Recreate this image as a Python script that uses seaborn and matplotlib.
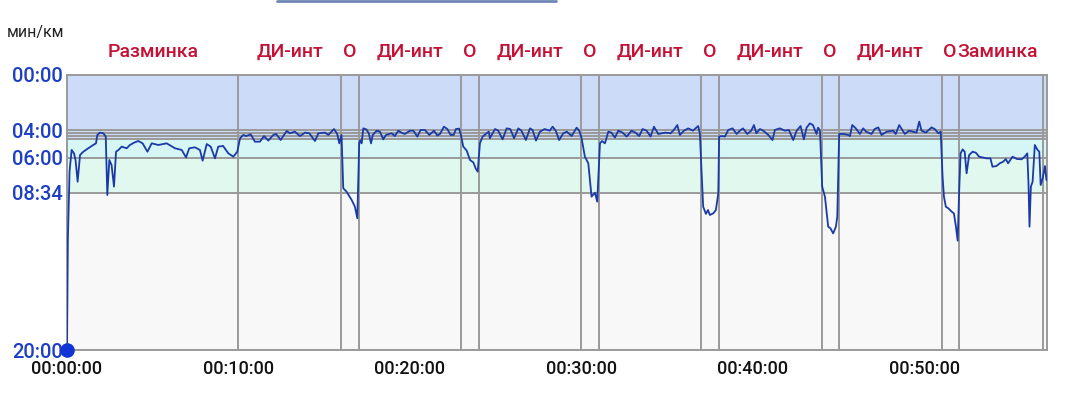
import matplotlib
matplotlib.use("Agg")
import matplotlib.pyplot as plt
from matplotlib.lines import Line2D
from matplotlib.transforms import blended_transform_factory
import seaborn as sns

# elapsed time (minutes) and pace (min/km)
elapsed_min = [
    0.0, 0.05, 0.15, 0.27, 0.41, 0.5, 0.62, 0.76, 0.95, 1.24, 1.53, 1.69, 1.77, 1.92, 2.12, 2.26,
    2.35, 2.47, 2.6, 2.74, 2.86, 3.0, 3.19, 3.48, 3.67, 3.91, 4.16, 4.41, 4.69, 4.94, 5.33, 5.81,
    6.3, 6.69, 6.94, 7.13, 7.46, 7.75, 7.91, 8.15, 8.38, 8.63, 8.82, 9.1, 9.41, 9.7, 9.93,
    10.09, 10.28, 10.45, 10.71, 10.96, 11.25, 11.49, 11.74, 12.03, 12.2, 12.46, 12.81, 13.0,
    13.29, 13.58, 13.88, 14.13, 14.46, 14.66, 15.04, 15.24, 15.57, 15.76, 15.88, 16.01,
    16.11, 16.3, 16.6, 16.79, 16.93,
    17.04, 17.1, 17.18, 17.28, 17.45, 17.6, 17.73, 17.83, 18.06, 18.25, 18.44, 18.6, 18.93,
    19.12, 19.32, 19.5, 19.7, 20.0, 20.2, 20.43, 20.62, 20.87, 21.13, 21.4, 21.6, 21.75,
    21.98, 22.18, 22.37, 22.55, 22.68, 22.87, 22.97,
    23.11, 23.31, 23.5, 23.7, 23.83, 23.95,
    24.08, 24.24, 24.47, 24.6, 24.66, 24.96, 25.15, 25.4, 25.64, 25.85, 26.07, 26.32, 26.5,
    26.76, 27.0, 27.15, 27.35, 27.58, 27.85, 28.15, 28.32, 28.5, 28.7, 28.94, 29.15, 29.43,
    29.72, 29.87, 30.01,
    30.2, 30.4, 30.59, 30.79, 30.92,
    31.08, 31.2, 31.37, 31.57, 31.75, 31.95, 32.15, 32.4, 32.64, 32.92, 33.15, 33.37, 33.57,
    33.8, 34.03, 34.23, 34.48, 34.9, 35.2, 35.39, 35.59, 35.74, 35.98, 36.23, 36.5, 36.81, 36.91,
    37.0, 37.1, 37.26, 37.38, 37.49, 37.69, 37.84, 37.98,
    38.03, 38.2, 38.37, 38.56, 38.81, 39.05, 39.24, 39.42, 39.67, 39.9, 40.06, 40.2, 40.41,
    40.6, 40.9, 41.14, 41.28, 41.57, 41.87, 42.1, 42.35, 42.55, 42.78, 42.97, 43.13, 43.32,
    43.5, 43.71, 43.8, 43.91,
    44.04, 44.2, 44.39, 44.52, 44.68, 44.84, 44.92,
    45.03, 45.3, 45.55, 45.66, 45.79, 46.0, 46.24, 46.43, 46.6, 46.92, 47.1, 47.31, 47.5,
    47.8, 48.18, 48.33, 48.53, 48.65, 48.86, 49.1, 49.54, 49.7, 49.83, 50.09, 50.42, 50.6,
    50.81, 50.95,
    51.06, 51.14, 51.25, 51.4, 51.59, 51.72, 51.84, 51.94,
    52.03, 52.11, 52.23, 52.35, 52.46, 52.61, 52.81, 53.0, 53.19, 53.4, 53.62, 53.85, 53.97,
    54.2, 54.4, 54.6, 54.75, 54.88, 55.14, 55.4, 55.67, 55.85, 56.0, 56.07, 56.13, 56.21,
    56.31, 56.44, 56.58, 56.7, 56.78, 56.9, 57.03, 57.12,
]
pace_min = [
    20.0, 12.0, 7.0, 5.45, 5.7, 6.2, 7.76, 5.82, 5.58, 5.33, 5.09, 4.97, 4.36, 4.19, 4.24, 4.48,
    8.73, 6.18, 6.55, 8.12, 5.58, 5.45, 5.21, 5.33, 5.09, 4.92, 4.8, 4.97, 5.58, 4.97, 5.09, 4.97,
    5.33, 5.45, 5.99, 5.33, 5.26, 5.45, 6.23, 5.02, 5.21, 6.06, 5.21, 5.16, 5.7, 5.94, 5.58,
    4.61, 4.36, 4.44, 4.31, 4.85, 4.85, 4.44, 4.77, 4.36, 4.29, 4.73, 4.07, 4.24,
    4.12, 4.44, 4.19, 4.24, 4.8, 4.24, 4.19, 4.36, 3.93, 4.29, 4.97, 4.36,
    8.24, 8.48, 9.09, 9.58, 10.42,
    4.97, 4.75, 4.97, 3.88, 3.95, 4.24, 4.97, 4.36, 4.05, 4.12, 4.68, 4.36, 4.24,
    4.44, 4.05, 4.19, 4.29, 4.05, 4.05, 4.48, 4.0, 4.0, 4.36, 4.05, 4.4, 4.29,
    3.76, 3.93, 4.36, 4.36, 3.93, 3.9, 4.36,
    5.21, 5.5, 6.18, 6.36, 6.79, 7.03,
    4.97, 4.48, 4.24, 4.12, 4.6, 3.93, 4.05, 4.68, 3.88, 3.93, 4.6, 3.88, 4.05,
    4.73, 3.88, 4.0, 4.77, 4.12, 3.93, 4.05, 3.76, 4.05, 4.73, 4.24, 4.12, 4.44,
    3.83, 4.05, 4.6,
    5.94, 6.42, 8.85, 8.56, 9.21,
    4.97, 4.8, 4.97, 4.12, 4.19, 4.55, 4.05, 4.19, 4.48, 4.05, 4.19, 4.44, 3.93,
    4.05, 4.48, 3.76, 4.29, 4.19, 4.24, 4.0, 3.64, 4.36, 4.05, 3.88, 4.05, 3.71, 4.29,
    6.91, 9.58, 10.1, 9.82, 10.18, 10.06, 9.82, 8.6,
    4.48, 4.44, 4.48, 4.0, 3.88, 4.29, 4.05, 3.88, 4.29, 4.05, 3.64, 4.24, 3.93,
    4.05, 4.36, 4.73, 4.0, 3.88, 4.05, 4.0, 4.73, 4.05, 3.71, 4.68, 3.83, 3.52,
    3.64, 4.29, 3.83, 4.05,
    8.12, 8.85, 11.03, 11.15, 11.52, 11.03, 10.3,
    4.29, 4.29, 4.36, 4.44, 3.64, 3.88, 4.29, 3.88, 4.12, 4.29, 3.93, 3.81, 4.36,
    4.12, 4.05, 4.29, 3.64, 3.88, 4.29, 4.05, 4.19, 3.39, 4.05, 4.19, 3.81, 3.93,
    4.24, 4.12,
    7.39, 8.85, 9.58, 9.7, 9.94, 10.06, 11.03, 12.05,
    8.36, 5.7, 5.41, 5.58, 7.15, 5.82, 5.58, 5.65, 5.94, 6.0, 6.06, 6.06, 6.67,
    6.62, 6.42, 6.3, 6.11, 6.42, 5.94, 6.11, 6.13, 5.94, 5.7, 7.88, 11.03, 8.12,
    7.76, 5.09, 5.41, 5.58, 8.0, 7.52, 6.62, 7.64,
]

segment_names = ["Разминка", "ДИ-инт", "О", "ДИ-инт", "О", "ДИ-инт", "О", "ДИ-инт",
                 "О", "ДИ-инт", "О", "ДИ-инт", "О", "Заминка"]
segment_bounds = [0, 10, 16, 17, 23, 24, 30, 31, 37, 38, 44, 45, 51, 52, 56.93]

zone_edges = [0, 4.65, 6.0, 8.567, 20]
zone_colors = ["#ccdbf8", "#d6f6f6", "#e1f8ef", "#f8f8f8"]
pace_lines = [4.0, 4.25, 4.45, 4.65, 6.0, 8.567]

pace_ticks = [0, 4, 6, 8.567, 20]
pace_labels = ["00:00", "04:00", "06:00", "08:34", "20:00"]
time_ticks = [0, 10, 20, 30, 40, 50]
time_labels = ["00:00:00", "00:10:00", "00:20:00", "00:30:00", "00:40:00", "00:50:00"]

sns.set_theme(style="white")
plt.rcParams['font.family'] = ['Roboto', 'DejaVu Sans']

fig = plt.figure(figsize=(10.65, 4.0), dpi=100)
ax = fig.add_axes([67 / 1065, 50 / 400, 980 / 1065, 275 / 400])

grid_col = "#9a9a9a"
for lo, hi, col in zip(zone_edges[:-1], zone_edges[1:], zone_colors):
    ax.axhspan(lo, hi, color=col, lw=0, zorder=0)
for p in pace_lines:
    ax.axhline(p, color=grid_col, lw=1.4, zorder=1)
for b in segment_bounds[1:]:
    ax.axvline(b, color=grid_col, lw=1.4, zorder=1)

sns.lineplot(x=elapsed_min, y=pace_min, ax=ax, estimator=None, sort=False,
             color="#1a3aa8", lw=1.3, zorder=3, solid_joinstyle="round")
ax.plot([elapsed_min[0]], [pace_min[0]], "o", color="#1234d4", ms=9.5,
        zorder=4, clip_on=False)

ax.set_xlim(0, 57.15)
ax.set_ylim(20, 0)
ax.set_xticks(time_ticks)
ax.set_xticklabels(time_labels, fontsize=13, color="#111111", fontweight="medium")
ax.set_yticks(pace_ticks)
ax.set_yticklabels(pace_labels, fontsize=14.5, color="#1c3fc4", fontweight="medium")
ax.tick_params(axis="both", length=0)
ax.tick_params(axis="x", pad=7)
ax.tick_params(axis="y", pad=3)
ax.set_xlabel("")
ax.set_ylabel("")
for s in ax.spines.values():
    s.set_color(grid_col)
    s.set_linewidth(1.4)

trans = blended_transform_factory(ax.transData, ax.transAxes)
for name, lo, hi in zip(segment_names, segment_bounds[:-1], segment_bounds[1:]):
    xc = (lo + hi) / 2
    if name == "Заминка":
        xc -= 0.2
    ax.text(xc, 1.083, name, transform=trans, ha="center", va="center",
            fontsize=14, color="#c41236", fontweight="medium")

fig.text(35 / 1065, 1 - 33 / 400, "мин/км", ha="center", va="center",
         fontsize=11.5, color="#222222")
fig.add_artist(Line2D([277 / 1065, 556 / 1065], [0.998, 0.998],
                      color="#6f88b8", lw=2))

fig.savefig("out.png", dpi=100)
